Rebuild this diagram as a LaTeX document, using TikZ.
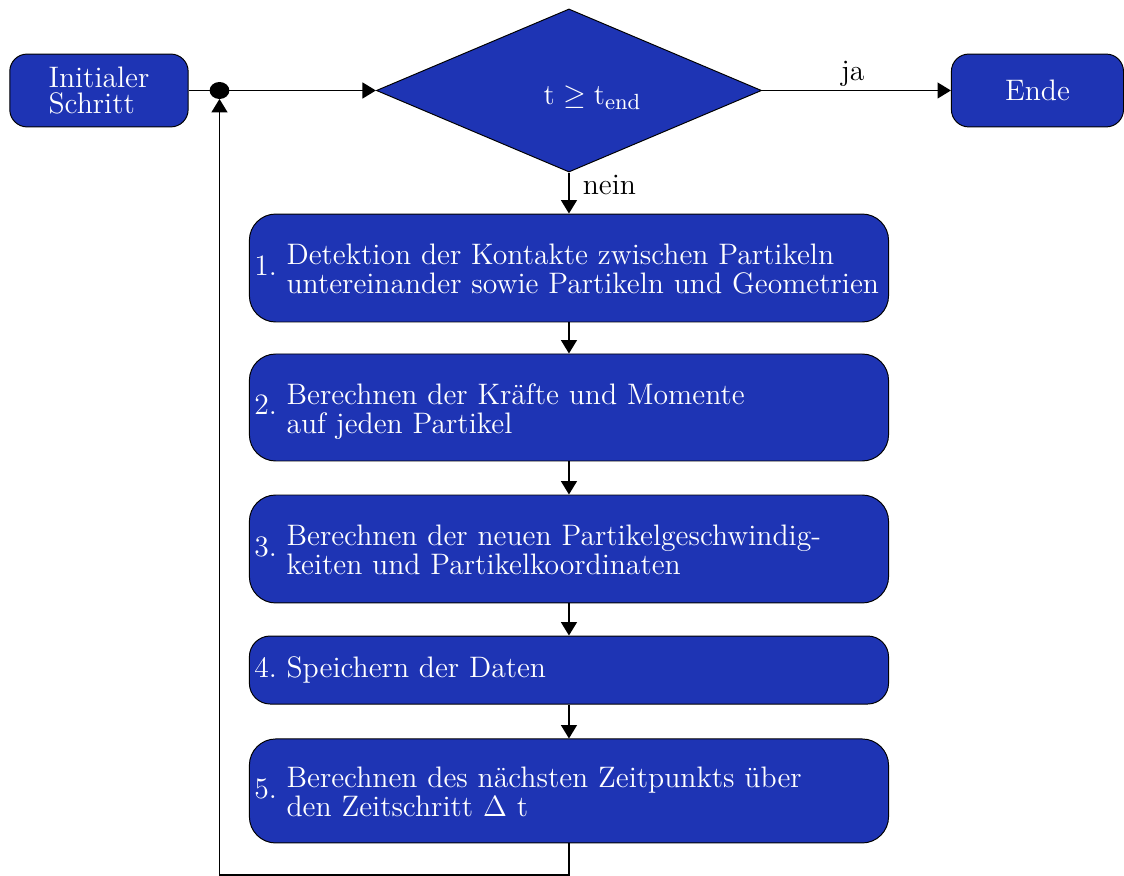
\documentclass[tikz,border=0pt]{standalone}
\usepackage{tikz}
\usepackage{amsmath}
\usetikzlibrary{shapes.geometric,arrows.meta}
\definecolor{boxblue}{RGB}{30,52,180}

\begin{document}
\begin{tikzpicture}[font=\fontsize{12.15}{11}\selectfont]
    \tikzstyle{startstop}=[draw=black,fill=boxblue,text=white,rounded corners=0.25cm,minimum width=2.57cm,minimum height=1.05cm,align=left]
    \tikzstyle{decision}=[diamond,draw=black,fill=boxblue,text=white,aspect=2.36,minimum width=5.55cm,minimum height=2.35cm,inner sep=0pt,text height=0.5cm,text depth=0.11cm]
    \tikzstyle{process}=[draw=black,fill=boxblue,text=white,rounded corners=0.38cm,text width=9.07cm,inner xsep=2pt,align=left]
    \tikzstyle{junction}=[ellipse,draw=black,fill=black,inner sep=0pt,minimum width=0.27cm,minimum height=0.23cm]
    \tikzstyle{arrow}=[line width=0.7pt,-{Triangle[length=5.5pt,width=6.5pt]}]
    \useasboundingbox (-8.199,1.304) rectangle (7.998,-11.305);
    \node[startstop] (init) at (-6.773,0) {Initialer\\Schritt};
    \node[junction] (dot) at (-5.036,0) {};
    \node[decision] (test) at (0,0) {\hspace*{0.68cm}$\mathrm{t} \geq \mathrm{t}_{\mathrm{end}}$};
    \node[startstop,minimum width=2.48cm] (ende) at (6.751,0) {Ende};
    \node[process,minimum height=1.556cm] (s1) at (0,-2.558) {1.\hspace{4pt}\raisebox{-2pt}[\height][\depth]{\begin{tabular}{@{}l@{}}Detektion der Kontakte zwischen Partikeln\\untereinander sowie Partikeln und Geometrien\end{tabular}}};
    \node[process,minimum height=1.542cm] (s2) at (0,-4.568) {2.\hspace{4pt}\raisebox{-2pt}[\height][\depth]{\begin{tabular}{@{}l@{}}Berechnen der Kr\"afte und Momente\\auf jeden Partikel\end{tabular}}};
    \node[process,minimum height=1.556cm] (s3) at (0,-6.607) {3.\hspace{4pt}\raisebox{-2pt}[\height][\depth]{\begin{tabular}{@{}l@{}}Berechnen der neuen Partikelgeschwindig-\\keiten und Partikelkoordinaten\end{tabular}}};
    \node[process,minimum height=0.98cm,rounded corners=0.3cm] (s4) at (0,-8.351) {4.\hspace{4pt}Speichern der Daten};
    \node[process,minimum height=1.499cm] (s5) at (0,-10.094) {5.\hspace{4pt}\raisebox{-2pt}[\height][\depth]{\begin{tabular}{@{}l@{}}Berechnen des n\"achsten Zeitpunkts \"uber\\den Zeitschritt $\Delta$ t\end{tabular}}};
    \draw[line width=0.7pt] (init) -- (dot);
    \draw[arrow] (dot) -- (test);
    \draw[arrow] (test) -- node[above,xshift=-1.5pt,yshift=-2pt]{ja} (ende);
    \draw[arrow] (test) -- node[pos=0.3,right,xshift=2pt]{nein} (s1);
    \draw[arrow] (s1) -- (s2);
    \draw[arrow] (s2) -- (s3);
    \draw[arrow] (s3) -- (s4);
    \draw[arrow] (s4) -- (s5);
    \draw[arrow] (s5.south) -- ++(0,-0.45) -| (dot);
\end{tikzpicture}
\end{document}
